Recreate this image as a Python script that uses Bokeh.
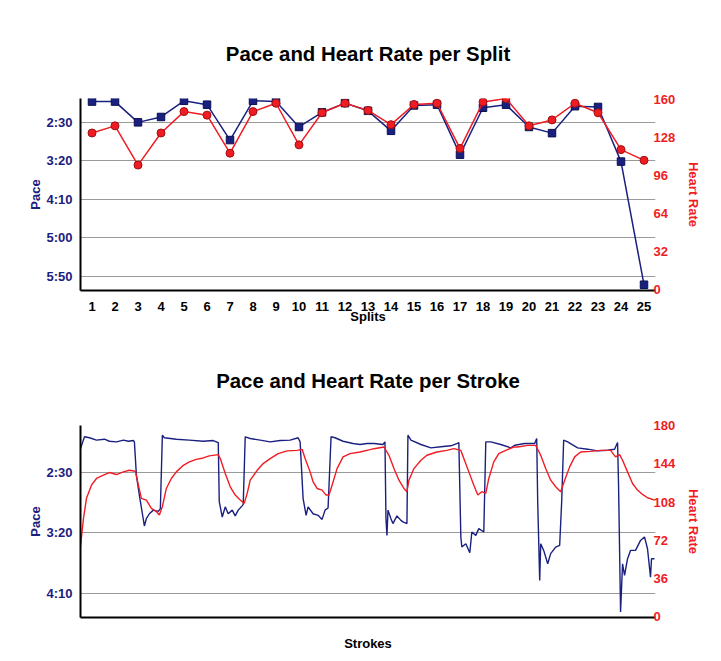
from bokeh.plotting import figure
from bokeh.models import Range1d, LinearAxis, FixedTicker, CustomJSTickFormatter, Title
from bokeh.layouts import column
from bokeh.embed import file_html
from bokeh.resources import INLINE

# ---------------- data: per split ----------------
splits = list(range(1, 26))
split_pace = [123, 123, 150, 143, 122, 127, 173, 122, 123, 156, 137, 125, 135,
              161, 128, 127, 192, 131, 127, 156, 164, 129, 130, 201, 361]   # seconds / 500m
split_hr = [132, 138, 105, 132, 150, 147, 115, 150, 157, 122, 149, 157, 151,
            139, 156, 157, 119, 158, 161, 138, 143, 157, 149, 118, 109]

# ---------------- data: per stroke ----------------
stroke_pace_x = [0, 4, 9, 16, 24, 29, 36, 43, 48, 53, 54, 56, 59, 64, 66, 69, 73, 78, 80, 82,
                 84, 96, 109, 123, 133, 138, 139, 142, 145, 148, 152, 155, 158, 163, 165, 170,
                 180, 190, 200, 210, 218, 220, 223, 226, 228, 233, 238, 242, 245, 248, 251, 255,
                 263, 273, 280, 287, 294, 303, 305, 306, 307, 308, 311, 313, 317, 321, 323, 327,
                 328, 331, 341, 351, 361, 371, 377, 379, 381, 382, 386, 390, 392, 396, 399, 404,
                 406, 411, 421, 431, 435, 445, 455, 457, 458, 460, 461, 464, 468, 471, 476, 480,
                 482, 484, 488, 498, 508, 518, 528, 535, 538, 539, 541, 543, 545, 548, 551, 556,
                 561, 565, 568, 571, 572, 575]
stroke_pace = [129.8, 120.0, 120.8, 122.8, 122.0, 123.7, 124.2, 122.8, 123.7, 123.1, 124.2, 152.0,
               168.7, 194.2, 188.0, 184.0, 181.0, 182.0, 179.8, 118.7, 120.8, 122.0, 122.8, 123.7,
               123.1, 124.8, 174.0, 186.7, 178.3, 184.0, 181.0, 185.8, 181.0, 176.4, 120.0, 121.4,
               122.8, 124.2, 123.1, 122.8, 120.8, 124.2, 171.4, 185.3, 178.3, 184.0, 185.3, 188.7,
               181.0, 179.2, 120.0, 120.8, 123.7, 125.6, 126.4, 125.6, 125.6, 126.4, 124.2, 188.1,
               202.0, 181.0, 188.1, 192.2, 185.8, 189.5, 190.8, 192.2, 118.7, 122.8, 126.4, 129.2,
               128.3, 127.5, 125.6, 124.8, 203.3, 211.7, 208.9, 216.4, 199.2, 202.0, 196.4, 199.2,
               124.2, 124.2, 126.4, 129.2, 127.0, 125.6, 125.6, 121.4, 174.2, 239.5, 208.9, 214.5,
               225.6, 217.2, 211.7, 210.3, 174.2, 122.8, 124.2, 129.2, 130.3, 131.7, 131.2, 130.3,
               124.8, 160.3, 265.8, 225.6, 235.3, 221.4, 214.5, 214.5, 206.2, 203.3, 213.1, 236.7,
               221.4, 221.4]

stroke_hr_x = [0, 3, 6, 11, 16, 23, 29, 36, 43, 49, 55, 58, 61, 66, 71, 76, 79, 82, 86, 91, 96,
               103, 109, 116, 123, 129, 138, 140, 145, 150, 155, 160, 164, 167, 170, 177, 183,
               190, 198, 207, 217, 222, 225, 230, 233, 237, 242, 246, 249, 252, 257, 263, 270,
               280, 290, 294, 304, 309, 314, 319, 324, 327, 329, 334, 341, 347, 357, 367, 374,
               381, 384, 389, 394, 398, 402, 406, 409, 414, 419, 426, 434, 438, 448, 456, 461,
               466, 471, 476, 481, 485, 490, 495, 501, 511, 521, 531, 536, 540, 543, 548, 553,
               558, 563, 568, 575]
stroke_hr = [66.4, 92.8, 111.5, 123.9, 130.2, 133.3, 135.8, 133.9, 136.4, 137.9, 137.0, 123.9,
             111.5, 109.9, 102.1, 99.1, 95.9, 103.7, 120.8, 130.2, 136.4, 142.6, 145.8, 148.2,
             149.5, 151.4, 152.6, 148.9, 134.9, 122.4, 114.6, 109.9, 106.8, 116.2, 128.6, 137.9,
             144.2, 148.9, 153.6, 156.1, 156.6, 157.6, 148.9, 136.4, 127.1, 120.8, 119.3, 114.6,
             114.6, 123.9, 139.5, 150.5, 153.6, 155.1, 157.3, 158.2, 159.8, 152.0, 139.5, 128.6,
             120.8, 117.8, 128.6, 139.5, 147.3, 152.0, 155.1, 156.6, 158.2, 156.6, 148.9, 136.4,
             123.9, 114.6, 117.8, 116.2, 130.2, 145.8, 153.6, 156.6, 159.8, 159.8, 161.3, 161.3,
             152.0, 139.5, 128.6, 122.4, 117.8, 128.6, 141.1, 150.5, 155.1, 155.7, 156.6, 156.6,
             150.5, 152.6, 147.3, 136.4, 125.5, 119.3, 115.2, 112.1, 109.9]

top_pace_ticks = [150, 200, 250, 300, 350]
top_hr_ticks = [0, 32, 64, 96, 128, 160]
bot_pace_ticks = [150, 200, 250]
bot_hr_ticks = [0, 36, 72, 108, 144, 180]

NAVY = "#1a2080"
RED = "#f01c24"
FONT = "Liberation Sans"

pace_fmt = CustomJSTickFormatter(code="""
const m = Math.floor(tick / 60);
const s = Math.round(tick - m * 60);
return m + ":" + (s < 10 ? "0" : "") + s;
""")


def style_common(p, title_text):
    p.add_layout(Title(text=" ", text_font_size="15px"), "above")
    p.title.text = title_text
    p.title.text_font = FONT
    p.title.text_font_size = "20.4px"
    p.title.text_font_style = "bold"
    p.title.text_color = "black"
    p.title.align = "center"
    p.outline_line_color = None
    p.xgrid.grid_line_color = None
    p.ygrid.grid_line_color = "#9a9a9a"
    p.ygrid.grid_line_width = 1
    # left axis
    ya = p.yaxis[0]
    ya.axis_line_color = "black"
    ya.axis_line_width = 2
    ya.major_tick_line_color = None
    ya.minor_tick_line_color = None
    ya.major_label_text_color = NAVY
    ya.major_label_text_font = FONT
    ya.major_label_text_font_style = "bold"
    ya.major_label_text_font_size = "13px"
    ya.major_label_standoff = 2
    ya.axis_label = "Pace"
    ya.axis_label_text_color = NAVY
    ya.axis_label_text_font = FONT
    ya.axis_label_text_font_style = "bold"
    ya.axis_label_text_font_size = "13px"
    ya.axis_label_standoff = 0
    ya.formatter = pace_fmt
    # bottom axis
    xa = p.xaxis[0]
    xa.axis_line_color = "black"
    xa.axis_line_width = 2
    xa.major_tick_line_color = None
    xa.minor_tick_line_color = None
    xa.major_label_text_font = FONT
    xa.major_label_text_font_style = "bold"
    xa.major_label_text_font_size = "13px"
    xa.major_label_text_color = "black"
    xa.axis_label_text_font = FONT
    xa.axis_label_text_font_style = "bold"
    xa.axis_label_text_font_size = "13px"
    xa.axis_label_text_color = "black"


def add_hr_axis(p, ticks):
    ax = LinearAxis(y_range_name="hr", ticker=FixedTicker(ticks=ticks))
    ax.axis_line_color = None
    ax.major_tick_line_color = None
    ax.minor_tick_line_color = None
    ax.major_label_text_color = RED
    ax.major_label_text_font = FONT
    ax.major_label_text_font_style = "bold"
    ax.major_label_text_font_size = "13px"
    ax.major_label_standoff = -8
    ax.axis_label = "Heart Rate"
    ax.axis_label_text_color = RED
    ax.axis_label_text_font = FONT
    ax.axis_label_text_font_style = "bold"
    ax.axis_label_text_font_size = "13px"
    ax.axis_label_standoff = 8
    p.add_layout(ax, "right")


# ---------------- top figure ----------------
p1 = figure(width=713, height=338, output_backend="svg", toolbar_location=None,
            x_range=Range1d(0.5, 25.5), y_range=Range1d(368.5, 119),
            min_border_left=80, min_border_right=58, min_border_top=98, min_border_bottom=48)
p1.extra_y_ranges = {"hr": Range1d(-0.5, 161)}
style_common(p1, "Pace and Heart Rate per Split")
p1.yaxis[0].ticker = FixedTicker(ticks=top_pace_ticks)
p1.xaxis[0].ticker = FixedTicker(ticks=splits)
p1.xaxis[0].axis_label = "Splits"
p1.xaxis[0].major_label_standoff = 5
p1.xaxis[0].axis_label_standoff = -5
add_hr_axis(p1, top_hr_ticks)

p1.line(splits, split_pace, line_color=NAVY, line_width=1.5)
p1.scatter(splits, split_pace, marker="square", size=7.5, fill_color=NAVY, line_color="#0a0f50")
p1.line(splits, split_hr, line_color=RED, line_width=1.5, y_range_name="hr")
p1.scatter(splits, split_hr, marker="circle", size=8, fill_color=RED, line_color="#a01010",
           y_range_name="hr")

# ---------------- bottom figure ----------------
p2 = figure(width=713, height=323, output_backend="svg", toolbar_location=None,
            x_range=Range1d(0, 576), y_range=Range1d(270.3, 110.6),
            min_border_left=80, min_border_right=58, min_border_top=87, min_border_bottom=44)
p2.extra_y_ranges = {"hr": Range1d(-0.5, 180)}
style_common(p2, "Pace and Heart Rate per Stroke")
p2.yaxis[0].ticker = FixedTicker(ticks=bot_pace_ticks)
p2.xaxis[0].ticker = FixedTicker(ticks=[])
p2.xaxis[0].major_label_text_font_size = "0px"
p2.xaxis[0].axis_label = "Strokes"
p2.xaxis[0].axis_label_standoff = 18
add_hr_axis(p2, bot_hr_ticks)

p2.line(stroke_pace_x, stroke_pace, line_color=NAVY, line_width=1.4)
p2.line(stroke_hr_x, stroke_hr, line_color=RED, line_width=1.4, y_range_name="hr")

layout = column(p1, p2)
open("out.html", "w").write(file_html(layout, INLINE))
